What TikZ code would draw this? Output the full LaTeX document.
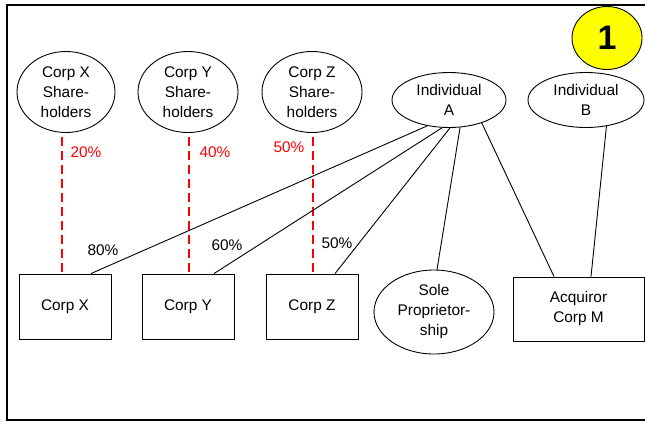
\documentclass[tikz,border=0pt]{standalone}
\usepackage{fontspec}
\setmainfont{Liberation Sans}
\usetikzlibrary{shapes.geometric,calc}
\definecolor{hiyellow}{RGB}{255,255,0}
\definecolor{sharered}{RGB}{255,0,0}
\begin{document}
\begin{tikzpicture}[x=1pt,y=-1pt,
  every node/.style={font=\fontsize{15.4}{20}\selectfont, inner sep=0pt},
  ell/.style={draw, ellipse, line width=0.9pt, align=center},
  box/.style={draw, rectangle, line width=0.9pt, align=center},
  conn/.style={line width=0.9pt},
  share/.style={draw=sharered, line width=2.4pt, dash pattern=on 9pt off 5pt},
  pct/.style={text=black},
  redpct/.style={text=sharered}
]
\useasboundingbox (0,0) rectangle (645,421);
% frame
\draw[line width=2pt] (650,5) -- (7,5) -- (7,419.5) -- (650,419.5);

% number badge
\node[ell, fill=hiyellow, minimum width=70pt, minimum height=63pt, font=\fontsize{34}{34}\selectfont\bfseries] (badge) at (607,38) {1};

% shareholder ellipses
\node[ell, minimum width=98pt, minimum height=81pt] (sx) at (66,92) {Corp X\\Share-\\holders};
\node[ell, minimum width=100pt, minimum height=81pt] (sy) at (188,92) {Corp Y\\Share-\\holders};
\node[ell, minimum width=100pt, minimum height=81pt] (sz) at (312,92) {Corp Z\\Share-\\holders};

% individuals
\node[ell, minimum width=114pt, minimum height=55pt] (ia) at (449,100) {Individual\\A};
\node[ell, minimum width=116pt, minimum height=55pt] (ib) at (586,100) {Individual\\B};

% corporations
\node[box, minimum width=92pt, minimum height=65pt] (cx) at (65,306.5) {Corp X};
\node[box, minimum width=92pt, minimum height=65pt] (cy) at (188,306.5) {Corp Y};
\node[box, minimum width=92pt, minimum height=65pt] (cz) at (312,306.5) {Corp Z};
\node[ell, minimum width=120pt, minimum height=84pt] (sp) at (434,312) {Sole\\Proprietor-\\ship};
\node[box, minimum width=131pt, minimum height=64pt] (cm) at (578.5,309) {Acquiror\\Corp M};

% shareholder (red dashed) links
\draw[share] ($(sx.south)+(-4,4)$) -- ($(cx.north)+(-3,0)$);
\draw[share] ($(sy.south)+(1,4)$) -- ($(cy.north)+(1,0)$);
\draw[share] ($(sz.south)+(1,4)$) -- ($(cz.north)+(1,0)$);

% ownership links
\draw[conn] (ia.230) -- ($(cx.north)+(26,0)$);
\draw[conn] (ia.256) -- ($(cy.north)+(26,0)$);
\draw[conn] (ia.272) -- ($(cz.north)+(23,0)$);
\draw[conn] (ia.292) -- ($(sp.north)+(3,0)$);
\draw[conn] (ia.325) -- ($(cm.north)+(-24.5,0)$);
\draw[conn] (ib.308) -- ($(cm.north)+(12.5,0)$);

% labels
\node[redpct] (l20) at (86,152) {20\%};
\node[redpct] (l40) at (215,152) {40\%};
\node[redpct] (l50r) at (289,147) {50\%};
\node[pct] (l80) at (103,250) {80\%};
\node[pct] (l60) at (227,245) {60\%};
\node[pct] (l50) at (337,243) {50\%};
\end{tikzpicture}
\end{document}
